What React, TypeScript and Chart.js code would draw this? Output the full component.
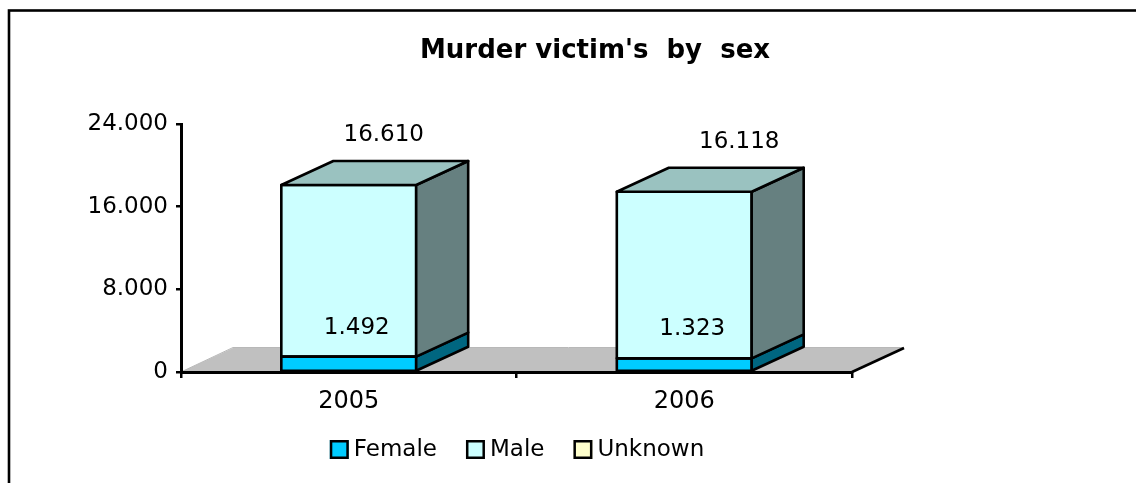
import React, { useEffect, useRef } from "react";
import { Chart, registerables } from "chart.js";

Chart.register(...registerables);

// ---- data ----
const categories: string[] = ["2005", "2006"];
const seriesNames: string[] = ["Female", "Male", "Unknown"];
const femaleValues: number[] = [1492, 1323];
const maleValues: number[] = [16610, 16118];
const unknownValues: number[] = [0, 0];
const yMin = 0;
const yMax = 24000;
const yStep = 8000;
const chartTitle = "Murder victim's  by  sex";

// ---- styles ----
const FRONT = ["#00CCFF", "#CCFFFF", "#FFFFCC"];
const SIDE = ["#006680", "#668080", "#808066"];
const TOP = ["#0099BF", "#9AC2C0", "#BFBF99"];
const DX = 52;
const DY = -24;
const LINE = 2.6;
const FONT = "'DejaVu Sans', Verdana, sans-serif";
// label offsets relative to segment (x from bar centre, y from segment top)
const LABEL_DX: number[][] = [[8, 8], [35, 55], [0, 0]];
const LABEL_DY: number[] = [-29, -50, -20];

function fmt(v: number): string {
  return String(Math.round(v)).replace(/\B(?=(\d{3})+(?!\d))/g, ".");
}

const threeDPlugin = {
  id: "threeD",
  beforeDraw(chart: any) {
    const { ctx, chartArea: a } = chart;
    ctx.save();
    ctx.fillStyle = "#ffffff";
    ctx.fillRect(0, 0, chart.width, chart.height);
    // outer frame
    ctx.strokeStyle = "#000";
    ctx.lineWidth = LINE;
    ctx.strokeRect(9, 10.5, chart.width + 100, chart.height + 100);
    // floor
    ctx.beginPath();
    ctx.moveTo(a.left, a.bottom);
    ctx.lineTo(a.right, a.bottom);
    ctx.lineTo(a.right + DX, a.bottom + DY);
    ctx.lineTo(a.left + DX, a.bottom + DY);
    ctx.closePath();
    ctx.fillStyle = "#C0C0C0";
    ctx.fill();
    ctx.strokeStyle = "#B8B8B8";
    ctx.lineWidth = 1;
    ctx.beginPath();
    ctx.moveTo(a.left, a.bottom);
    ctx.lineTo(a.left + DX, a.bottom + DY - 0.5);
    ctx.lineTo(a.right + DX, a.bottom + DY - 0.5);
    ctx.stroke();
    ctx.strokeStyle = "#000";
    ctx.lineWidth = LINE;
    ctx.beginPath();
    ctx.moveTo(a.right, a.bottom);
    ctx.lineTo(a.right + DX, a.bottom + DY);
    ctx.stroke();
    ctx.restore();
  },
  afterDatasetsDraw(chart: any) {
    const { ctx } = chart;
    const n = chart.data.labels.length;
    ctx.save();
    ctx.lineWidth = LINE;
    ctx.strokeStyle = "#000";
    ctx.lineJoin = "round";
    const labels: { text: string; x: number; y: number }[] = [];
    for (let i = 0; i < n; i++) {
      const segs: any[] = [];
      chart.data.datasets.forEach((ds: any, d: number) => {
        const el = chart.getDatasetMeta(d).data[i];
        if (!el) return;
        const p = el.getProps(["x", "y", "base", "width"], true);
        const v = ds.data[i];
        if (!v) return;
        segs.push({ d, v, ...p });
      });
      segs.forEach((s, k) => {
        const left = s.x - s.width / 2;
        const right = s.x + s.width / 2;
        const top = Math.min(s.y, s.base);
        const bottom = Math.max(s.y, s.base);
        // front outline
        ctx.strokeRect(left, top, s.width, bottom - top);
        // side
        ctx.beginPath();
        ctx.moveTo(right, bottom);
        ctx.lineTo(right + DX, bottom + DY);
        ctx.lineTo(right + DX, top + DY);
        ctx.lineTo(right, top);
        ctx.closePath();
        ctx.fillStyle = SIDE[s.d];
        ctx.fill();
        ctx.stroke();
        if (k === segs.length - 1) {
          ctx.beginPath();
          ctx.moveTo(left, top);
          ctx.lineTo(left + DX, top + DY);
          ctx.lineTo(right + DX, top + DY);
          ctx.lineTo(right, top);
          ctx.closePath();
          ctx.fillStyle = TOP[s.d];
          ctx.fill();
          ctx.stroke();
        }
        labels.push({
          text: fmt(s.v),
          x: s.x + LABEL_DX[s.d][i],
          y: top + LABEL_DY[s.d],
        });
      });
    }
    ctx.fillStyle = "#000";
    ctx.font = `23px ${FONT}`;
    ctx.textAlign = "center";
    ctx.textBaseline = "middle";
    labels.forEach((l) => ctx.fillText(l.text, l.x, l.y));
    ctx.restore();
  },
  afterDraw(chart: any) {
    const { ctx } = chart;
    ctx.save();
    // title
    ctx.fillStyle = "#000";
    ctx.font = `bold 26px ${FONT}`;
    ctx.textAlign = "center";
    ctx.textBaseline = "alphabetic";
    ctx.fillText(chartTitle, 595, 58);
    // legend
    ctx.font = `23px ${FONT}`;
    const box = 19;
    const gapText = 5;
    const gapItem = 29;
    const items = chart.data.datasets.map((ds: any) => ({
      label: ds.label,
      color: ds.backgroundColor,
      w: ctx.measureText(ds.label).width,
    }));
    const total =
      items.reduce((acc: number, it: any) => acc + box + gapText + it.w, 0) +
      gapItem * (items.length - 1);
    let x = 517 - total / 2;
    const yTop = 440;
    ctx.textAlign = "left";
    ctx.textBaseline = "middle";
    items.forEach((it: any) => {
      ctx.fillStyle = it.color;
      ctx.fillRect(x, yTop, box, box);
      ctx.strokeStyle = "#000";
      ctx.lineWidth = 2.5;
      ctx.strokeRect(x + 1.25, yTop + 1.25, box - 2.5, box - 2.5);
      ctx.fillStyle = "#000";
      ctx.fillText(it.label, x + box + gapText, yTop + box / 2 + 1);
      x += box + gapText + it.w + gapItem;
    });
    ctx.restore();
  },
};

export default function App() {
  const ref = useRef<HTMLCanvasElement | null>(null);
  useEffect(() => {
    if (!ref.current) return;
    const values = [femaleValues, maleValues, unknownValues];
    const chart = new Chart(ref.current, {
      type: "bar",
      data: {
        labels: categories,
        datasets: seriesNames.map((name, d) => ({
          label: name,
          data: values[d],
          backgroundColor: FRONT[d],
          borderWidth: 0,
          borderSkipped: false,
          categoryPercentage: 1,
          barPercentage: 0.402,
        })),
      },
      options: {
        animation: false,
        responsive: false,
        devicePixelRatio: 1,
        events: [],
        layout: { padding: { left: 0, top: 124, right: 284, bottom: 0 } },
        plugins: {
          legend: { display: false },
          title: { display: false },
          tooltip: { enabled: false },
        },
        scales: {
          x: {
            stacked: true,
            offset: true,
            afterFit: (s: any) => {
              s.height = 111;
            },
            border: { display: true, color: "#000", width: 3 },
            grid: {
              offset: true,
              drawOnChartArea: false,
              drawTicks: true,
              tickLength: 6,
              color: "#000",
              lineWidth: 2.5,
            },
            ticks: {
              color: "#000",
              font: { family: FONT, size: 24 },
              padding: 9,
            },
          },
          y: {
            stacked: true,
            min: yMin,
            max: yMax,
            afterFit: (s: any) => {
              s.width = 181;
            },
            border: { display: true, color: "#000", width: 3 },
            grid: {
              drawOnChartArea: false,
              drawTicks: true,
              tickLength: 5,
              color: "#000",
              lineWidth: 2.5,
            },
            ticks: {
              stepSize: yStep,
              color: "#000",
              font: { family: FONT, size: 23 },
              padding: 8,
              callback: (v: any) => fmt(Number(v)),
            },
          },
        },
      },
      plugins: [threeDPlugin],
    });
    return () => chart.destroy();
  }, []);
  return (
    <div style={{ position: "fixed", left: 0, top: 0, width: 1136, height: 483 }}>
      <canvas ref={ref} width={1136} height={483} style={{ display: "block" }} />
    </div>
  );
}
